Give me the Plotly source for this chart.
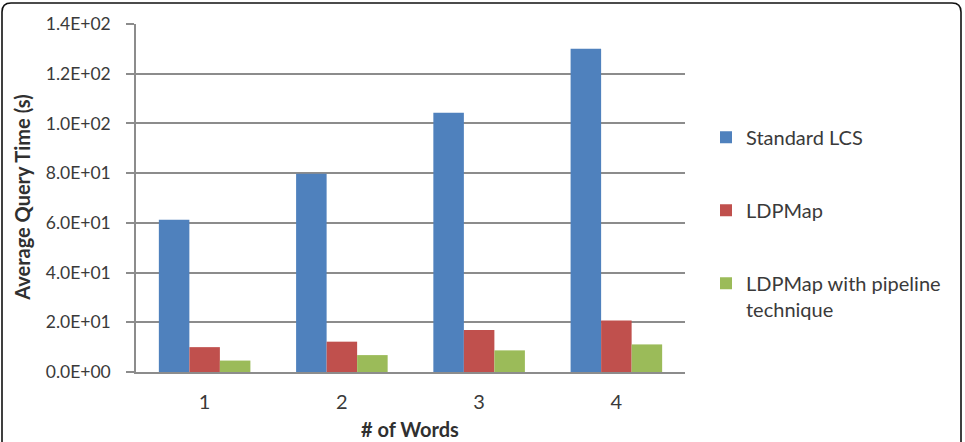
import plotly.graph_objects as go

categories = ["1", "2", "3", "4"]
standard_lcs = [61.2, 79.8, 104.3, 130.0]
ldpmap = [10.0, 12.2, 16.9, 20.7]
ldpmap_pipeline = [4.6, 6.8, 8.7, 11.1]
series_names = ["Standard LCS", "LDPMap", "LDPMap with pipeline<br>technique"]
colors = ["#4F81BD", "#C0504D", "#9BBB59"]
y_tickvals = [0, 20, 40, 60, 80, 100, 120, 140]
y_ticktext = ["0.0E+00", "2.0E+01", "4.0E+01", "6.0E+01", "8.0E+01", "1.0E+02", "1.2E+02", "1.4E+02"]
x_title = "# of Words"
y_title = "Average Query Time (s)"

FONT = "Lato, 'Open Sans', sans-serif"
TXT = "#3a3a3a"
GRID = "#8c8c8c"
FS = 20

fig = go.Figure()
for i, (name, vals) in enumerate(zip(series_names, [standard_lcs, ldpmap, ldpmap_pipeline])):
    fig.add_trace(go.Bar(x=categories, y=vals, name=name, marker=dict(color=colors[i], line=dict(width=0)),
                         legendgroup=f"g{i}"))

# plot area in pixels
W_FIG, H_FIG = 965, 442
L, R, T, B = 136, 685, 24, 372.5
W, H = R - L, B - T

def px(x):
    return (x - L) / W

def py(y):
    return (B - y) / H

# rounded frame
x0, y0, x1, y1, r = 2, 3, 961, 470, 9
path = (f"M {px(x0)},{py(y1)} L {px(x0)},{py(y0 + r)} Q {px(x0)},{py(y0)} {px(x0 + r)},{py(y0)} "
        f"L {px(x1 - r)},{py(y0)} Q {px(x1)},{py(y0)} {px(x1)},{py(y0 + r)} L {px(x1)},{py(y1)}")

fig.update_layout(
    width=W_FIG, height=H_FIG,
    margin=dict(l=L, r=W_FIG - R, t=T, b=H_FIG - B),
    paper_bgcolor="white", plot_bgcolor="white",
    font=dict(family=FONT, size=FS, color=TXT),
    barmode="group", bargap=0.333, bargroupgap=0,
    showlegend=True,
    legend=dict(x=px(706), xanchor="left", y=py(118), yanchor="top",
                traceorder="grouped", tracegroupgap=44, valign="top",
                font=dict(family=FONT, size=FS, color=TXT),
                itemsizing="constant", bgcolor="rgba(0,0,0,0)"),
    shapes=[dict(type="path", path=path, xref="paper", yref="paper",
                 line=dict(color="#111111", width=1.6), layer="above")],
    annotations=[
        dict(text=f"<b>{y_title}</b>", xref="paper", yref="paper", x=px(22), y=py(198),
             xanchor="center", yanchor="middle", textangle=-90, showarrow=False,
             font=dict(size=FS, color="#303030")),
        dict(text=f"<b>{x_title}</b>", xref="paper", yref="paper", x=px(410), y=py(430),
             xanchor="center", yanchor="middle", showarrow=False,
             font=dict(size=FS, color="#303030")),
    ],
    xaxis=dict(showgrid=False, showline=True, linecolor=GRID, linewidth=1.5,
               ticks="", ticklabelstandoff=11, tickfont=dict(size=FS, color=TXT),
               automargin=False, fixedrange=True),
    yaxis=dict(range=[0, 140], tickvals=y_tickvals, ticktext=y_ticktext,
               showgrid=True, gridcolor=GRID, gridwidth=1.5,
               showline=True, linecolor=GRID, linewidth=1.5,
               ticks="outside", ticklen=8, tickcolor=GRID, tickwidth=1.5,
               ticklabelstandoff=12, tickfont=dict(size=17.5, color=TXT),
               automargin=False, zeroline=False, fixedrange=True),
)

fig.write_html("out.html")
